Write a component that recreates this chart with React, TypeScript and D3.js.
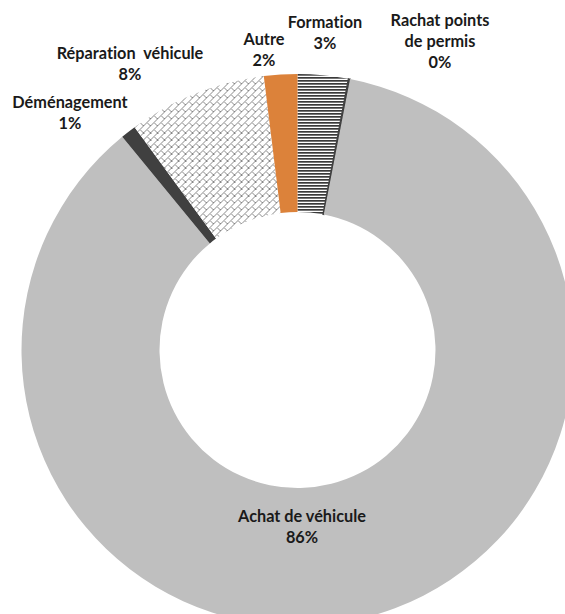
import React from "react";
import * as d3 from "d3";

const categories = ["Formation", "Rachat points de permis", "Achat de véhicule", "Déménagement", "Réparation  véhicule", "Autre"];
const values = [2.95, 0.1, 86.0, 0.9, 8.1, 1.95];
const labelLines = [["Formation"], ["Rachat points", "de permis"], ["Achat de véhicule"], ["Déménagement"], ["Réparation\u00A0 véhicule"], ["Autre"]];
const percentLabels = ["3%", "0%", "86%", "1%", "8%", "2%"];

// layout (not data)
const W = 565, H = 614;
const CX = 297.5, CY = 350, R_OUT = 276, R_IN = 138;
const fills = ["url(#hlines)", "#404040", "#BFBFBF", "#404040", "url(#dbrick)", "#DC823A"];
const labelPos: [number, number][] = [[325, 28], [440, 26], [302, 522], [70, 108], [130, 59], [264, 45]];
const LINE_H = 21;

export default function App() {
  const pie = d3.pie<number>().sort(null).startAngle(0).endAngle(2 * Math.PI);
  const arcs = pie(values);
  const arc = d3.arc<d3.PieArcDatum<number>>().innerRadius(R_IN).outerRadius(R_OUT);
  return (
    <svg width={W} height={H} style={{ position: "absolute", left: 0, top: 0, background: "#fff" }}>
      <defs>
        <pattern id="hlines" width={6} height={3} patternUnits="userSpaceOnUse">
          <rect width={6} height={3} fill="#fff" />
          <rect width={6} height={1.7} fill="#3a3a3a" />
        </pattern>
        <pattern id="dbrick" width={7} height={7} patternUnits="userSpaceOnUse">
          <rect width={7} height={7} fill="#fff" />
          <path d="M-1,8 L8,-1 M3.5,3.5 L7,7 M-1,1 L1,-1 M6,8 L8,6" stroke="#888" strokeWidth={1} fill="none" />
        </pattern>
      </defs>
      <g transform={`translate(${CX},${CY})`}>
        {arcs.map((a, i) => (
          <path key={categories[i]} d={arc(a) || ""} fill={fills[i]} stroke={i === 1 ? "#404040" : "none"} strokeWidth={i === 1 ? 1.2 : 0} />
        ))}
      </g>
      <g fontFamily="Lato, 'Open Sans', sans-serif" fontWeight="bold" fontSize={16.3} fill="#1a1a1a" textAnchor="middle" style={{ fontVariantLigatures: "none" }}>
        {labelLines.map((lines, i) => (
          <text key={categories[i]} x={labelPos[i][0]} y={labelPos[i][1]}>
            {lines.map((l, j) => (
              <tspan key={j} x={labelPos[i][0]} dy={j === 0 ? 0 : LINE_H}>{l}</tspan>
            ))}
            <tspan x={labelPos[i][0]} dy={LINE_H}>{percentLabels[i]}</tspan>
          </text>
        ))}
      </g>
    </svg>
  );
}
